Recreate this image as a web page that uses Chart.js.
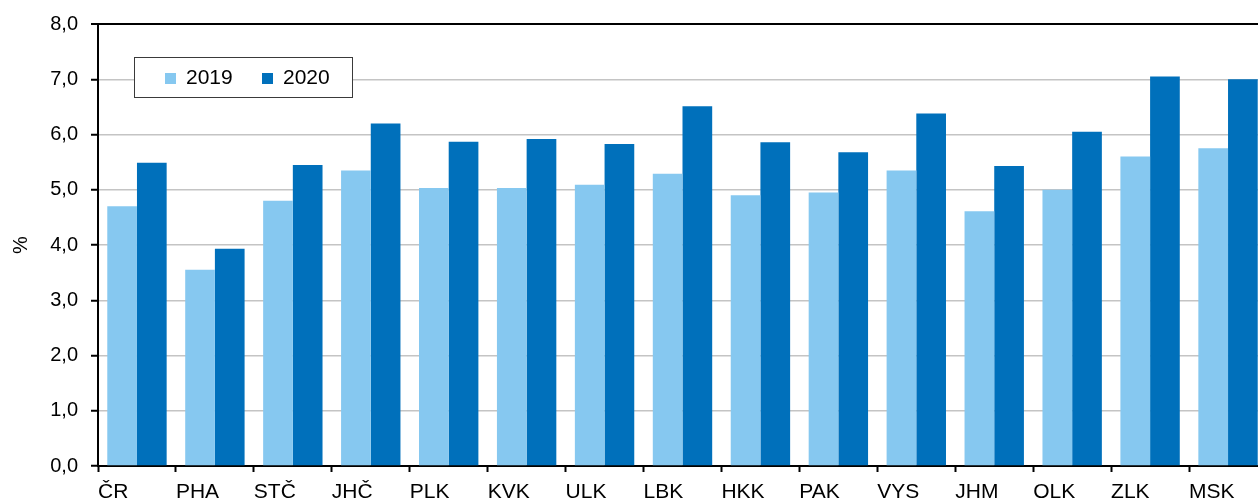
<!DOCTYPE html>
<html>
<head>
<meta charset="utf-8">
<script src="https://cdn.jsdelivr.net/npm/chart.js@4/dist/chart.umd.min.js"></script>
<style>
  html, body { margin: 0; padding: 0; background: #fff; overflow: hidden; }
</style>
</head>
<body>
<canvas id="chart" width="1267" height="501"></canvas>
<script>
// regions and rates for both years
const regions = ["ČR", "PHA", "STČ", "JHČ", "PLK", "KVK", "ULK", "LBK", "HKK", "PAK", "VYS", "JHM", "OLK", "ZLK", "MSK"];
const rates2019 = [4.7, 3.55, 4.8, 5.35, 5.03, 5.03, 5.09, 5.29, 4.9, 4.95, 5.35, 4.61, 5.0, 5.6, 5.75];
const rates2020 = [5.49, 3.93, 5.45, 6.2, 5.87, 5.92, 5.83, 6.51, 5.86, 5.68, 6.38, 5.43, 6.05, 7.05, 7.0];
const yearLabels = ["2019", "2020"];
const yTicks = [0, 1, 2, 3, 4, 5, 6, 7, 8];

const LIGHT = "#86c8f0";
const DARK = "#0070bb";
const FONT = "'Liberation Sans', Arial, sans-serif";

Chart.defaults.font.family = FONT;
Chart.defaults.font.size = 20;
Chart.defaults.color = "#000";

// boxed legend sitting inside the plot area
const boxLegend = {
  id: "boxLegend",
  afterDraw(chart) {
    const { ctx, chartArea } = chart;
    const x = chartArea.left + 36.5;
    const y = chartArea.top + 33.5;
    ctx.save();
    ctx.fillStyle = "#fff";
    ctx.fillRect(x, y, 218, 40);
    ctx.strokeStyle = "#3a3a3a";
    ctx.lineWidth = 1;
    ctx.strokeRect(x, y, 218, 40);
    ctx.font = "21px " + FONT;
    ctx.textBaseline = "middle";
    ctx.textAlign = "left";
    chart.data.datasets.forEach((ds, i) => {
      const sx = Math.round(x + 30.5 + i * 97);
      ctx.fillStyle = ds.backgroundColor;
      ctx.fillRect(sx, y + 15.5, 11, 11);
      ctx.fillStyle = "#000";
      ctx.fillText(ds.label, sx + 21, y + 21);
    });
    ctx.restore();
  }
};

new Chart(document.getElementById("chart"), {
  type: "bar",
  data: {
    labels: regions,
    datasets: [
      { label: yearLabels[0], data: rates2019, backgroundColor: LIGHT },
      { label: yearLabels[1], data: rates2020, backgroundColor: DARK }
    ]
  },
  options: {
    responsive: false,
    animation: false,
    layout: { padding: { left: 0, top: 24, right: 0, bottom: 0 } },
    datasets: {
      bar: { categoryPercentage: 0.762, barPercentage: 1.0, borderWidth: 0 }
    },
    plugins: {
      legend: { display: false },
      tooltip: { enabled: false }
    },
    scales: {
      x: {
        offset: true,
        border: { display: true, color: "#000", width: 2 },
        grid: {
          offset: true,
          drawOnChartArea: false,
          drawTicks: true,
          tickLength: 6,
          tickColor: "#000",
          tickWidth: 2
        },
        ticks: {
          autoSkip: false,
          maxRotation: 0,
          align: "start",
          labelOffset: -39,
          padding: 8,
          font: { size: 21 }
        },
        afterFit(scale) {
          scale.height = 35;
          scale.paddingLeft = 0;
          scale.paddingRight = 0;
        }
      },
      y: {
        min: 0,
        max: 8,
        afterBuildTicks(scale) {
          scale.ticks = yTicks.map(v => ({ value: v }));
        },
        border: { display: true, color: "#000", width: 2 },
        grid: {
          color: ctx => (ctx.tick && ctx.tick.value === 8 ? "#000" : "#c4c4c4"),
          lineWidth: ctx => (ctx.tick && ctx.tick.value === 8 ? 2 : 1.5),
          tickLength: 7,
          tickColor: "#000",
          tickWidth: 2
        },
        ticks: {
          padding: 13,
          callback: v => v.toFixed(1).replace(".", ",")
        },
        title: {
          display: true,
          text: "%",
          padding: { top: 9, bottom: 0 }
        },
        afterFit(scale) {
          scale.width = 98;
          scale.paddingTop = 0;
          scale.paddingBottom = 0;
        }
      }
    }
  },
  plugins: [boxLegend]
});
</script>
</body>
</html>
